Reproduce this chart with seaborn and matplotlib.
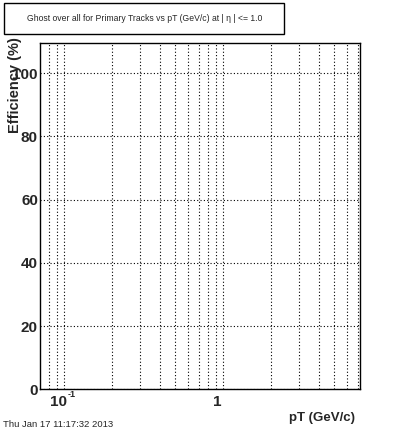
import matplotlib
matplotlib.use("Agg")
import matplotlib.pyplot as plt
import matplotlib.ticker as mticker
import seaborn as sns
import pandas as pd

# Data (the reference histogram is empty)
pt_values = []
efficiency_values = []
title_text = "Ghost over all for Primary Tracks vs pT (GeV/c) at | \u03b7 | <= 1.0"
date_text = "Thu Jan 17 11:17:32 2013"
y_ticks = [0, 20, 40, 60, 80, 100]
x_ticks = [0.1, 1]
x_tick_labels = ["10", "1"]

sns.set_style("white")
plt.rcParams['font.family'] = ['Liberation Sans', 'DejaVu Sans']

fig = plt.figure(figsize=(4.0, 4.33), dpi=100)
W, H = 400, 433
left, right, top, bottom = 40, 360, 43.3, 389.3
ax = fig.add_axes([left / W, 1 - bottom / H, (right - left) / W, (bottom - top) / H])

df = pd.DataFrame({"pt": pd.Series(pt_values, dtype=float),
                   "eff": pd.Series(efficiency_values, dtype=float)})
sns.lineplot(data=df, x="pt", y="eff", ax=ax, color="black")

ax.set_xscale("log")
ax.set_xlim(0.0703, 7.25)
ax.set_ylim(0, 109.4)

ax.set_yticks(y_ticks)
ax.yaxis.set_minor_locator(mticker.MultipleLocator(5))
ax.set_yticklabels([str(v) for v in y_ticks], fontsize=11, fontweight="bold")

ax.xaxis.set_major_locator(mticker.FixedLocator(x_ticks))
ax.xaxis.set_minor_locator(mticker.LogLocator(base=10, subs=range(2, 10), numticks=20))
ax.xaxis.set_minor_formatter(mticker.NullFormatter())
ax.xaxis.set_major_formatter(mticker.NullFormatter())

# x tick labels (ROOT draws them slightly left of the tick)
for xv, lab in zip(x_ticks, x_tick_labels):
    ax.annotate(lab, xy=(xv, 0), xycoords=("data", "axes fraction"),
                xytext=(-4.5, -9.3), textcoords="offset points", ha="center", va="center",
                fontsize=11, fontweight="bold", annotation_clip=False)
# exponent of 10^-1
ax.annotate("-1", xy=(x_ticks[0], 0), xycoords=("data", "axes fraction"),
            xytext=(2.3, -3.8), textcoords="offset points", ha="left", va="center",
            fontsize=6.5, fontweight="bold", annotation_clip=False)

ax.tick_params(axis="both", which="major", direction="in", length=8, width=0.8, color="black")
ax.tick_params(axis="both", which="minor", direction="in", length=4, width=0.8, color="black")
ax.tick_params(axis="y", which="major", pad=1.5)
ax.tick_params(top=False, right=False)

ax.grid(True, which="major", axis="both", linestyle=(0, (1, 2)), color="black", linewidth=0.8)
ax.grid(True, which="minor", axis="x", linestyle=(0, (1, 2)), color="black", linewidth=0.8)

for s in ax.spines.values():
    s.set_color("black")
    s.set_linewidth(1.0)
    s.set_visible(True)

ax.set_xlabel("")
ax.set_ylabel("")

fig.text(15 / W, 1 - 85 / H, "Efficiency (%)", rotation=90, ha="center", va="center",
         fontsize=10.5, fontweight="bold")
fig.text(355 / W, 1 - 417.5 / H, "pT (GeV/c)", ha="right", va="center",
         fontsize=9.5, fontweight="bold")
fig.text(3 / W, 1 - 424.5 / H, date_text, ha="left", va="center", fontsize=6.8)

# Title box
fig.patches.append(plt.Rectangle((4 / W, 1 - 34 / H), 280 / W, 31 / H, transform=fig.transFigure,
                                 fill=False, edgecolor="black", linewidth=1.0))
fig.text(144.5 / W, 1 - 18.5 / H, title_text, ha="center", va="center", fontsize=6.2)

fig.savefig("out.png", dpi=100)
